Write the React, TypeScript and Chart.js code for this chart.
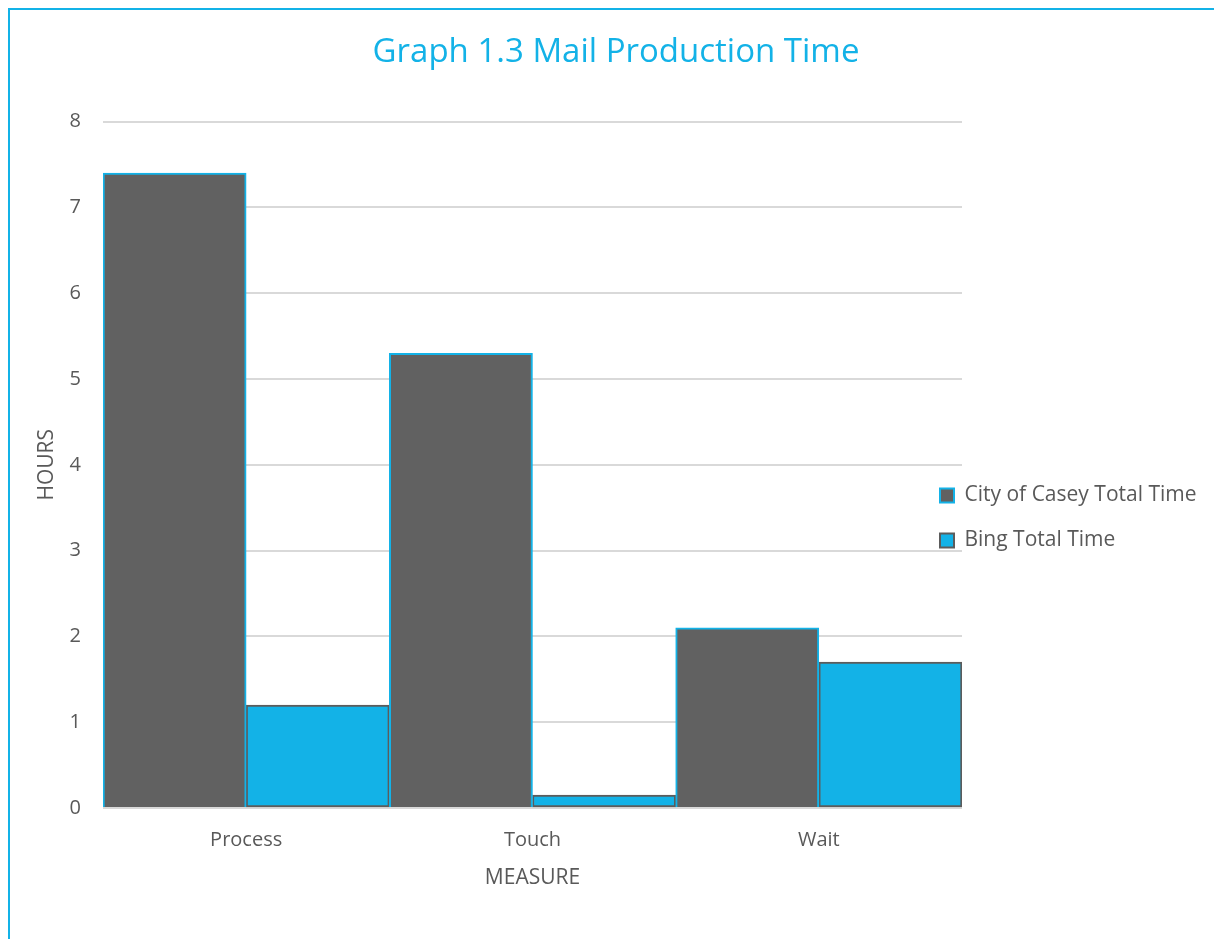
import React, { useEffect, useRef } from "react";
import { Chart, registerables } from "chart.js";

Chart.register(...registerables);

const categories = ["Process", "Touch", "Wait"];
const caseyValues = [7.4, 5.3, 2.1];
const bingValues = [1.2, 0.15, 1.7];
const seriesNames = ["City of Casey Total Time", "Bing Total Time"];
const yMin = 0;
const yMax = 8;
const yStep = 1;
const titleText = "Graph 1.3 Mail Production Time";
const xTitleText = "MEASURE";
const yTitleText = "HOURS";

const CYAN = "#13B2E7";
const GRAY = "#616161";
const GRAY_BORDER = "#5C5C5C";
const TEXT = "#595959";
const GRID = "#D9D9D9";
const FONT = "'Open Sans', 'Noto Sans', sans-serif";

const CANVAS_W = 1212;
const CANVAS_H = 929;
const LEGEND_LEFT = 906;
const LEGEND_TOP = 451;

const legendMover = {
  id: "legendMover",
  afterLayout(chart: any) {
    const lg = chart.legend;
    if (!lg) return;
    const h = lg.height;
    lg.left = LEGEND_LEFT;
    lg.top = LEGEND_TOP;
    lg.right = CANVAS_W;
    lg.width = CANVAS_W - LEGEND_LEFT;
    lg.bottom = LEGEND_TOP + h;
  },
};

export default function App() {
  const ref = useRef<HTMLCanvasElement | null>(null);

  useEffect(() => {
    if (!ref.current) return;
    const chart = new Chart(ref.current, {
      type: "bar",
      data: {
        labels: categories,
        datasets: [
          {
            label: seriesNames[0],
            data: caseyValues,
            backgroundColor: GRAY,
            borderColor: CYAN,
            borderWidth: 2,
            categoryPercentage: 1,
            barPercentage: 1,
          },
          {
            label: seriesNames[1],
            data: bingValues,
            backgroundColor: CYAN,
            borderColor: GRAY_BORDER,
            borderWidth: 2,
            borderSkipped: false,
            categoryPercentage: 1,
            barPercentage: 1,
          },
        ],
      },
      plugins: [legendMover],
      options: {
        responsive: false,
        animation: false,
        layout: { padding: { left: 0, right: 0, top: 0, bottom: 0 } },
        plugins: {
          title: {
            display: true,
            text: titleText,
            color: CYAN,
            font: { family: FONT, size: 33, weight: "normal" },
            padding: { top: 23, bottom: 49 },
          },
          legend: {
            display: true,
            position: "right",
            align: "start",
            maxWidth: 260,
            labels: {
              color: TEXT,
              font: { family: FONT, size: 21 },
              boxWidth: 14,
              boxHeight: 14,
              padding: 24,
            },
          },
          tooltip: { enabled: false },
        },
        scales: {
          x: {
            grid: { display: false, drawTicks: false },
            border: { display: false },
            ticks: {
              color: TEXT,
              font: { family: FONT, size: 20 },
              padding: 20,
            },
            title: {
              display: true,
              text: xTitleText,
              color: TEXT,
              font: { family: FONT, size: 21 },
              padding: { top: 0, bottom: 48 },
            },
            afterFit: (s: any) => {
              s.height = 131;
            },
          },
          y: {
            min: yMin,
            max: yMax,
            grid: { color: GRID, lineWidth: 2, drawTicks: false },
            border: { display: false },
            ticks: {
              stepSize: yStep,
              color: TEXT,
              font: { family: FONT, size: 20 },
              padding: 22,
            },
            title: {
              display: true,
              text: yTitleText,
              color: TEXT,
              font: { family: FONT, size: 21 },
              padding: { top: 24, bottom: 0 },
            },
            afterFit: (s: any) => {
              s.width = 93;
            },
          },
        },
      },
    });
    return () => chart.destroy();
  }, []);

  return (
    <div
      style={{
        borderTop: `2px solid ${CYAN}`,
        borderLeft: `2px solid ${CYAN}`,
        width: CANVAS_W,
        height: CANVAS_H,
        overflow: "hidden",
      }}
    >
      <canvas ref={ref} width={CANVAS_W} height={CANVAS_H} style={{ display: "block" }} />
    </div>
  );
}
